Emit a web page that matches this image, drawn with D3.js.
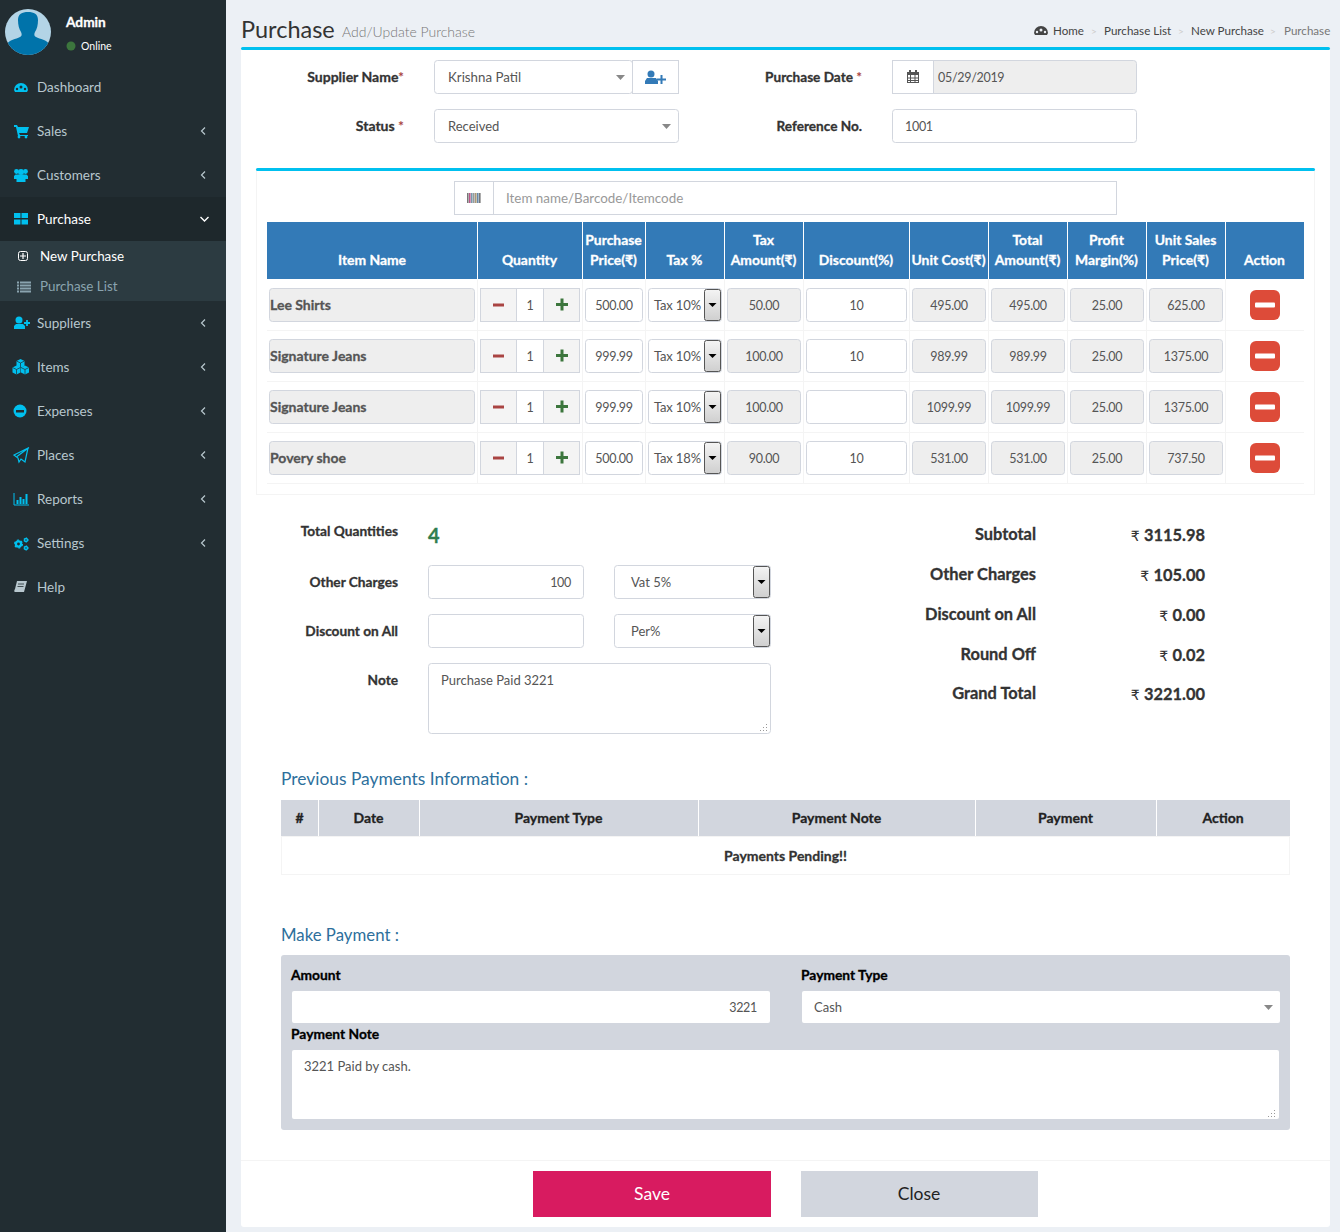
<!DOCTYPE html>
<html>
<head>
<meta charset="utf-8">
<title>Purchase</title>
<script src="https://d3js.org/d3.v7.min.js"></script>
<style>
html, body { margin: 0; padding: 0; background: #ecf0f5; }
svg { display: block; font-family: Lato, "Noto Sans", "DejaVu Sans", sans-serif; }
</style>
</head>
<body>
<svg id="page" width="1340" height="1232"></svg>
<script>
// values
var menuTop = ["Dashboard", "Sales", "Customers", "Purchase"];
var menuBottom = ["Suppliers", "Items", "Expenses", "Places", "Reports", "Settings", "Help"];
var subMenu = ["New Purchase", "Purchase List"];
var crumbs = ["Home", "Purchase List", "New Purchase", "Purchase"];

var itemHeaders = [["Item Name"], ["Quantity"], ["Purchase", "Price(₹)"], ["Tax %"], ["Tax", "Amount(₹)"], ["Discount(%)"],
    ["Unit Cost(₹)"], ["Total", "Amount(₹)"], ["Profit", "Margin(%)"], ["Unit Sales", "Price(₹)"], ["Action"]];
var itemNames = ["Lee Shirts", "Signature Jeans", "Signature Jeans", "Povery shoe"];
var quantities = [1, 1, 1, 1];
var purchasePrices = ["500.00", "999.99", "999.99", "500.00"];
var taxLabels = ["Tax 10%", "Tax 10%", "Tax 10%", "Tax 18%"];
var taxAmounts = ["50.00", "100.00", "100.00", "90.00"];
var discounts = ["10", "10", "", "10"];
var unitCosts = ["495.00", "989.99", "1099.99", "531.00"];
var totalAmounts = ["495.00", "989.99", "1099.99", "531.00"];
var profitMargins = ["25.00", "25.00", "25.00", "25.00"];
var salesPrices = ["625.00", "1375.00", "1375.00", "737.50"];

var totalLabels = ["Subtotal", "Other Charges", "Discount on All", "Round Off", "Grand Total"];
var totalValues = ["3115.98", "105.00", "0.00", "0.02", "3221.00"];
var paymentHeaders = ["#", "Date", "Payment Type", "Payment Note", "Payment", "Action"];

// layout
var sideBlue = "#00c0ef", line = "#d2d6de", soft = "#f4f4f4", textCol = "#555";
var svg = d3.select("#page");
var defs = svg.append("defs");
var grad = defs.append("linearGradient").attr("id", "selBtn").attr("x1", 0).attr("y1", 0).attr("x2", 0).attr("y2", 1);
grad.append("stop").attr("offset", "0").attr("stop-color", "#f4f4f4");
grad.append("stop").attr("offset", "1").attr("stop-color", "#cfcfcf");
defs.append("clipPath").attr("id", "avatarClip").append("circle").attr("cx", 28).attr("cy", 32).attr("r", 23);

function box(x0, y0, x1, y1, fill, stroke, r) {
    return svg.append("rect").attr("x", x0 + 0.5).attr("y", y0 + 0.5)
        .attr("width", x1 - x0 - 1).attr("height", y1 - y0 - 1)
        .attr("fill", fill).attr("stroke", stroke || "none").attr("rx", r || 0);
}
function solid(x0, y0, x1, y1, fill, r) {
    return svg.append("rect").attr("x", x0).attr("y", y0).attr("width", x1 - x0).attr("height", y1 - y0)
        .attr("fill", fill).attr("rx", r || 0);
}
function label(x, y, str, size, fill, weight, anchor) {
    var t = svg.append("text").attr("x", x).attr("y", y).text(str)
        .attr("font-size", size + "px").attr("fill", fill)
        .attr("font-weight", weight || 400).attr("text-anchor", anchor || "start");
    // the original bold is heavier than Lato bold
    if (weight == 700) t.attr("stroke", fill).attr("stroke-width", 0.3);
    return t;
}
// Lato digits run wider than the page font, so plain numbers get squeezed a bit
function number(x, y, str, anchor) {
    return label(x, y, str, 12.5, textCol, 400, anchor).attr("letter-spacing", "-0.3px");
}
function path(d, fill, stroke, sw) {
    return svg.append("path").attr("d", d).attr("fill", fill || "none")
        .attr("stroke", stroke || "none").attr("stroke-width", sw || 1);
}
function dot(cx, cy, r, fill) {
    return svg.append("circle").attr("cx", cx).attr("cy", cy).attr("r", r).attr("fill", fill);
}
function arrowDown(x, y, col) {
    path("M" + (x - 4) + "," + (y - 2) + "h9l-4.5,5z", col || "#888");
}
function nativeBtn(x0, y0, x1, y1) {
    box(x0, y0, x1, y1, "url(#selBtn)", "#555", 2);
    var cx = (x0 + x1) / 2, cy = y0 + (y1 - y0) / 2 - 1;
    path("M" + (cx - 4) + "," + (cy - 1) + "h8l-4,4z", "#000");
}
function grip(x, y) {
    [[0, 0], [-3, 3], [0, 3], [-6, 6], [-3, 6], [0, 6]].forEach(function (p) {
        solid(x + p[0], y + p[1], x + p[0] + 1, y + p[1] + 1, "#999");
    });
}
function gear(cx, cy, r, col) {
    var c = 2 * Math.PI * r;
    svg.append("circle").attr("cx", cx).attr("cy", cy).attr("r", r).attr("fill", "none")
        .attr("stroke", col).attr("stroke-width", r * 0.9);
    svg.append("circle").attr("cx", cx).attr("cy", cy).attr("r", r + r * 0.5).attr("fill", "none")
        .attr("stroke", col).attr("stroke-width", r * 0.5)
        .attr("stroke-dasharray", (c * 1.5 / 12) + " " + (c * 1.5 / 12));
}

// page and sidebar
solid(0, 0, 1340, 1232, "#ecf0f5");
solid(0, 0, 226, 1232, "#222d32");

var avatar = svg.append("g").attr("clip-path", "url(#avatarClip)");
avatar.append("rect").attr("x", 5).attr("y", 9).attr("width", 46).attr("height", 46).attr("fill", "#b3d4e6");
avatar.append("path").attr("fill", "#0073aa")
    .attr("d", "M18,20c0,-6 4,-8 10,-8c6,0 10,2 10,8c0,5 -1,9 -3,12c-1,2 -1,4 1,5c4,2 11,3 13,7v12h-42v-12c2,-4 9,-5 13,-7c2,-1 2,-3 1,-5c-2,-3 -3,-7 -3,-12z");
label(66, 27, "Admin", 13.7, "#fff", 700);
dot(71, 46, 4.5, "#3c763d");
label(81, 50, "Online", 10.5, "#fff", 400);

var menuY = d3.scaleLinear().domain([0, 1]).range([87, 131]);
var lowerY = d3.scaleLinear().domain([0, 1]).range([323, 367]);
var subY = d3.scaleLinear().domain([0, 1]).range([261, 291]);

solid(0, 197, 226, 241, "#1e282c");
solid(0, 241, 226, 301, "#2c3b41");

function chevron(y, open) {
    if (open) path("M200.5," + (y - 2) + "l4,4l4,-4", "none", "#fff", 1.4);
    else path("M205," + (y - 3.5) + "l-3.5,3.5l3.5,3.5", "none", "#b8c7ce", 1.2);
}
menuTop.forEach(function (m, i) {
    var y = menuY(i);
    label(37, y + 5, m, 13.5, m == "Purchase" ? "#fff" : "#b8c7ce");
    if (i > 0) chevron(y, m == "Purchase");
});
menuBottom.forEach(function (m, i) {
    var y = lowerY(i);
    label(37, y + 5, m, 13.5, "#b8c7ce");
    if (m != "Help") chevron(y, false);
});
subMenu.forEach(function (m, i) {
    label(40, subY(i), m, 13.4, i == 0 ? "#fff" : "#8aa4af");
});

// sidebar icons
var b = sideBlue, bg = "#222d32";
function gauge(x, y, col, hole) {
    path("M" + x + "," + (y + 5) + "a7,7 0 0 1 14,0l-1,2h-12z", col);
    dot(x + 7, y + 2, 1.5, hole);
    dot(x + 3, y + 4, 1.2, hole);
    dot(x + 11, y + 4, 1.2, hole);
}
gauge(14, 85, b, bg);
path("M14,125h3l1,2h11l-2,6h-8l1,2h8v1h-10l-2,-9h-2z", b);
dot(19, 137, 1.4, b);
dot(26, 137, 1.4, b);
dot(16.5, 171.5, 2.4, b);
dot(25.5, 171.5, 2.4, b);
dot(21, 172, 3, b);
path("M14,179v-3l1.5,-1.5h3v4.5zM23.5,179v-4.5h3l1.5,1.5v3z", b);
path("M16.5,182v-6l2,-1.5h5l2,1.5v6z", b);
solid(14, 213, 20.5, 218, b); solid(21.5, 213, 28, 218, b);
solid(14, 219.5, 20.5, 224.5, b); solid(21.5, 219.5, 28, 224.5, b);

box(18, 251, 28, 261, "none", "#fff", 2);
path("M23,253v6M20,256h6", "none", "#fff", 1.2);
[281.5, 284.5, 287.5, 290.5].forEach(function (y) {
    solid(17, y, 19, y + 2, "#8aa4af"); solid(20, y, 31, y + 2, "#8aa4af");
});

dot(19, 320, 3.5, b);
path("M14,329v-3l2,-2h7l2,2v3z", b);
path("M24,323h6M27,320v6", "none", b, 1.8);
[[20.5, 363], [16.5, 369.5], [25, 369.5]].forEach(function (p) {
    path("M" + (p[0] - 4) + "," + (p[1] - 2) + "l4,-2l4,2v5l-4,2l-4,-2z", b);
    path("M" + (p[0] - 4) + "," + (p[1] - 2) + "l4,2l4,-2M" + p[0] + "," + p[1] + "v5", "none", bg, 0.7);
});
dot(20, 411, 6.5, b);
solid(16, 410, 24, 412.5, bg);
path("M14,455l14,-7l-3,14l-4,-3l-2,3l-1,-4zM29,447.5l-12,9", "none", b, 1.2);
path("M14,493v12h15", "none", b, 1);
[[16.5, 500], [19.5, 497], [22.5, 499], [25.5, 494]].forEach(function (p) {
    solid(p[0], p[1], p[0] + 2, 504, b);
});
gear(18.5, 544, 2.6, b);
gear(26, 540, 1.5, b);
gear(26, 548, 1.5, b);
path("M17,581h10l-3,11h-9c-1,0 -1,-2 0,-3z", "#b8c7ce");
path("M18,584h6M17.5,586.5h6", "none", bg, 0.8);

// page title and breadcrumb
label(241, 38, "Purchase", 23.5, "#333");
label(342, 37, "Add/Update Purchase", 14, "#777", 300);
gauge(1034, 28, "#444", "#ecf0f5");
var crumbX = d3.scaleOrdinal().domain(crumbs).range([1053, 1104, 1191, 1284]);
crumbs.forEach(function (c, i) {
    label(crumbX(c), 35, c, 11.6, i == 3 ? "#777" : "#444");
});
[1091, 1178, 1270].forEach(function (x) { label(x, 35, ">", 10, "#ccc"); });

// main card
solid(241, 47, 1330, 1227, "#fff", 3);
solid(241, 47, 1330, 50, sideBlue, 1.5);

function rightLabel(y, str, star) {
    var t = label(404, y, str, 14, "#333", 700, "end");
    if (star) t.append("tspan").attr("fill", "#a94442").attr("stroke", "none").text(star);
}
rightLabel(82, "Supplier Name", "*");
rightLabel(131, "Status ", "*");
box(434, 60, 633, 94, "#fff", line, 3);
label(448, 82, "Krishna Patil", 13.3, textCol);
arrowDown(620, 77);
box(632, 60, 679, 94, "#fff", line);
dot(651, 74, 3.5, "#337ab7");
path("M645,84v-3l2,-3h9l2,3v3z", "#337ab7");
path("M657,79.5h9M661.5,75v9", "none", "#337ab7", 2);
box(434, 109, 679, 143, "#fff", line, 3);
label(448, 131, "Received", 13, textCol);
arrowDown(666, 126);

var t1 = label(862, 82, "Purchase Date ", 13.6, "#333", 700, "end");
t1.append("tspan").attr("fill", "#a94442").attr("stroke", "none").text("*");
label(862, 131, "Reference No.", 13.6, "#333", 700, "end");
box(892, 60, 1137, 94, "#eee", line, 3);
box(892, 60, 934, 94, "#fff", line);
box(907, 72, 919, 83, "none", "#555");
solid(907, 72, 919, 75, "#555");
path("M907,78h12M907,80.5h12M910.5,72v11M915,72v11", "none", "#555", 1);
solid(909, 70, 911, 73, "#555"); solid(915, 70, 917, 73, "#555");
number(938, 82, "05/29/2019");
box(892, 109, 1137, 143, "#fff", line, 3);
number(905, 131, "1001");

// item box
box(256, 168, 1315, 495, "#fff", soft);
solid(256, 168, 1315, 171, sideBlue, 1.5);
box(454, 181, 1117, 215, "#fff", line);
box(454, 181, 494, 215, "#fff", line);
[["#777", 467], ["#b58", 469], ["#79a", 471], ["#999", 473], ["#a97", 475], ["#68a", 477], ["#777", 479]].forEach(function (p) {
    solid(p[1], 193, p[1] + 1.6, 203, p[0]);
});
label(506, 203, "Item name/Barcode/Itemcode", 13.4, "#999");

// item table
var colEdge = [267, 477, 582, 645, 724, 803, 909, 988, 1067, 1146, 1225, 1304];
var xCol = d3.scaleOrdinal().domain(d3.range(colEdge.length)).range(colEdge);
var yRow = d3.scaleBand().domain(d3.range(itemNames.length)).range([280, 484]);

solid(267, 222, 1304, 279, "#337ab7");
itemHeaders.forEach(function (h, c) {
    var cx = (xCol(c) + xCol(c + 1)) / 2;
    if (c > 0) solid(xCol(c), 222, xCol(c) + 1, 279, "#fff");
    h.forEach(function (s, i) {
        label(cx, 265 - (h.length - 1 - i) * 20, s, 13.9, "#fff", 700, "middle");
    });
});
d3.range(1, colEdge.length - 1).forEach(function (c) { solid(xCol(c), 279, xCol(c) + 1, 484, soft); });
itemNames.forEach(function (n, r) {
    solid(267, yRow(r) + yRow.bandwidth() - 1, 1304, yRow(r) + yRow.bandwidth(), soft);
});

function valueCell(r, c, str, fill) {
    var y0 = yRow(r) + 8, y1 = y0 + 34;
    box(xCol(c) + 3, y0, xCol(c + 1) - 2, y1, fill, line, 3);
    number((xCol(c) + xCol(c + 1)) / 2 + 0.5, y0 + 22, str, "middle");
}
itemNames.forEach(function (n, r) {
    var y0 = yRow(r) + 8, y1 = y0 + 34, ym = y0 + 17;
    box(269, y0, 475, y1, "#eee", line, 3);
    label(270, y0 + 22, n, 14, textCol, 700);

    box(480, y0, 517, y1, soft, line);
    box(516, y0, 544, y1, "#fff", line);
    box(543, y0, 580, y1, soft, line);
    solid(493, ym - 1.5, 504, ym + 1.5, "#a94442");
    path("M556," + (ym - 0.5) + "h12M562," + (ym - 6.5) + "v12", "none", "#3c763d", 3);
    number(530, y0 + 22, quantities[r], "middle");

    valueCell(r, 2, purchasePrices[r], "#fff");
    box(648, y0, 722, y1, "#fff", line, 3);
    label(654, y0 + 22, taxLabels[r], 13, textCol).attr("letter-spacing", "-0.15px");
    nativeBtn(704, y0 + 1, 721, y1 - 1);
    valueCell(r, 4, taxAmounts[r], "#eee");
    valueCell(r, 5, discounts[r], "#fff");
    valueCell(r, 6, unitCosts[r], "#eee");
    valueCell(r, 7, totalAmounts[r], "#eee");
    valueCell(r, 8, profitMargins[r], "#eee");
    valueCell(r, 9, salesPrices[r], "#eee");
    solid(1250, ym - 15, 1280, ym + 15, "#dd4b39", 6);
    solid(1255, ym - 2.5, 1275, ym + 2.5, "#fff", 1);
});

// lower left form
function leftLabel(y, str) { label(398, y, str, 13.7, "#333", 700, "end"); }
leftLabel(536, "Total Quantities");
label(428, 543, "4", 20, "#2f7d4f", 700);
leftLabel(587, "Other Charges");
box(428, 565, 584, 599, "#fff", line, 3);
number(571, 587, "100", "end");
box(614, 565, 771, 599, "#fff", line, 3);
label(631, 587, "Vat 5%", 13, textCol);
nativeBtn(753, 566, 770, 598);
leftLabel(636, "Discount on All");
box(428, 614, 584, 648, "#fff", line, 3);
box(614, 614, 771, 648, "#fff", line, 3);
label(631, 636, "Per%", 13, textCol);
nativeBtn(753, 615, 770, 647);
leftLabel(685, "Note");
box(428, 663, 771, 734, "#fff", line, 3);
label(441, 685, "Purchase Paid 3221", 13, textCol);
grip(766, 724);

// totals
var totalY = d3.scaleOrdinal().domain(totalLabels).range([540, 580, 620, 660, 699]);
totalLabels.forEach(function (n, i) {
    label(1036, totalY(n), n, 16.4, "#333", 700, "end");
    var v = label(1205, totalY(n) + 1, "", 16.4, "#333", 700, "end");
    v.append("tspan").attr("font-weight", 400).attr("stroke", "none").attr("font-family", "'DejaVu Sans'").attr("font-size", "14px").text("₹ ");
    v.append("tspan").text(totalValues[i]);
});

// previous payments
label(281, 785, "Previous Payments Information :", 17.4, "#2d6f9c");
var payEdge = [281, 318, 419, 698, 975, 1156, 1290];
var xPay = d3.scaleOrdinal().domain(d3.range(payEdge.length)).range(payEdge);
solid(281, 800, 1290, 836, line);
paymentHeaders.forEach(function (h, i) {
    if (i > 0) solid(xPay(i), 800, xPay(i) + 1, 836, "#fff");
    label((xPay(i) + xPay(i + 1)) / 2, 823, h, 14, "#222", 700, "middle");
});
box(281, 836, 1290, 875, "#fff", soft);
label(785.5, 861, "Payments Pending!!", 14, "#333", 700, "middle");

// make payment
label(281, 941, "Make Payment :", 16.8, "#2d6f9c");
solid(281, 955, 1290, 1130, line, 3);
label(291, 980, "Amount", 13.8, "#000", 700);
solid(292, 991, 770, 1023, "#fff", 2);
number(757, 1012, "3221", "end");
label(801, 980, "Payment Type", 13.8, "#000", 700);
solid(802, 991, 1280, 1023, "#fff", 2);
label(814, 1012, "Cash", 13, textCol);
arrowDown(1268, 1007);
label(291, 1039, "Payment Note", 13.8, "#000", 700);
solid(292, 1050, 1279, 1119, "#fff", 2);
label(304, 1071, "3221 Paid by cash.", 13, textCol);
grip(1274, 1110);

// footer
solid(241, 1160, 1330, 1161, soft);
solid(533, 1171, 771, 1217, "#d81b60");
label(652, 1200, "Save", 17.5, "#fff", 400, "middle");
solid(801, 1171, 1038, 1217, line);
label(919, 1200, "Close", 17.5, "#222", 400, "middle");
</script>
</body>
</html>
